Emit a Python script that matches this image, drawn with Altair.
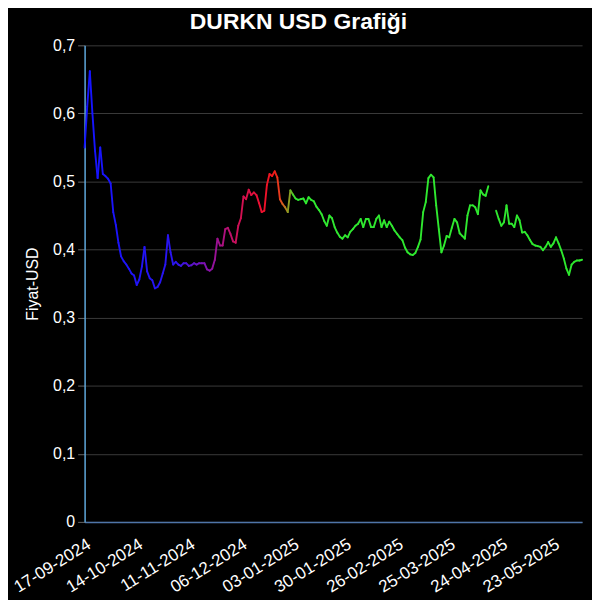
import altair as alt
import pandas as pd

# Daily closing prices (USD), trading-day index 0..191; None = missing day
prices = [
    0.550, 0.610, 0.662, 0.600, 0.545, 0.505, 0.550, 0.511, 0.508, 0.504,
    0.497, 0.455, 0.436, 0.410, 0.390, 0.383, 0.378, 0.372, 0.365, 0.362,
    0.348, 0.356, 0.375, 0.404, 0.368, 0.358, 0.355, 0.343, 0.345, 0.352,
    0.365, 0.378, 0.421, 0.396, 0.378, 0.382, 0.378, 0.376, 0.380, 0.380,
    0.376, 0.377, 0.380, 0.378, 0.380, 0.380, 0.380, 0.371, 0.369, 0.372,
    0.385, 0.416, 0.406, 0.406, 0.430, 0.432, 0.423, 0.412, 0.410, 0.435,
    0.446, 0.478, 0.474, 0.488, 0.480, 0.484, 0.480, 0.468, 0.455, 0.457,
    0.495, 0.511, 0.508, 0.515, 0.506, 0.474, 0.467, 0.462, 0.455, 0.487,
    0.481, 0.475, 0.473, 0.474, 0.475, 0.468, 0.477, 0.473, 0.471, 0.463,
    0.458, 0.452, 0.442, 0.435, 0.450, 0.446, 0.433, 0.425, 0.419, 0.416,
    0.421, 0.418, 0.426, 0.430, 0.435, 0.438, 0.445, 0.433, 0.445, 0.445,
    0.433, 0.433, 0.445, 0.450, 0.433, 0.443, 0.433, 0.441, 0.435, 0.428,
    0.423, 0.418, 0.414, 0.403, 0.396, 0.393, 0.392, 0.395, 0.404, 0.415,
    0.455, 0.470, 0.505, 0.510, 0.506, 0.465, 0.430, 0.396, 0.406, 0.420,
    0.418, 0.432, 0.445, 0.440, 0.424, 0.420, 0.416, 0.450, 0.465, 0.465,
    0.462, 0.452, 0.487, 0.481, 0.479, 0.493, None, None, 0.457, 0.445,
    0.435, 0.440, 0.465, 0.438, 0.438, 0.433, 0.450, 0.443, 0.425, 0.426,
    0.421, 0.414, 0.408, 0.406, 0.405, 0.404, 0.399, 0.404, 0.411, 0.404,
    0.409, 0.418, 0.409, 0.399, 0.387, 0.372, 0.363, 0.378, 0.382, 0.384,
    0.384, 0.385,
]

# x-axis tick labels (every 20th trading day)
tick_labels = [
    "17-09-2024", "14-10-2024", "11-11-2024", "06-12-2024", "03-01-2025",
    "30-01-2025", "26-02-2025", "25-03-2025", "24-04-2025", "23-05-2025",
]
tick_step = 20

# colour gradient stops along the series (index -> colour)
grad_idx = [0, 35, 48, 58, 68, 73, 76, 78, 81, 191]
grad_col = ["#1414ff", "#2a14f0", "#8a12a8", "#c8105c", "#ee1030",
            "#f01818", "#e05a20", "#a09020", "#30e830", "#2ee82e"]

rows = []
for i in range(len(prices) - 1):
    a, b = prices[i], prices[i + 1]
    if a is None or b is None:
        continue
    rows.append({"i": i, "i2": i + 1, "v": a, "v2": b, "c": i + 0.5})
df = pd.DataFrame(rows)

n = len(prices)
label_arr = "[" + ",".join("'" + s + "'" for s in tick_labels) + "]"

font = "Liberation Sans"

chart = alt.Chart(df).mark_rule(strokeWidth=1.9, strokeCap="round").encode(
    x=alt.X("i:Q",
            scale=alt.Scale(domain=[0, n - 1], nice=False, zero=False),
            axis=alt.Axis(values=[k * tick_step for k in range(len(tick_labels))],
                          labelExpr=label_arr + "[round(datum.value/%d)]" % tick_step,
                          labelAngle=-32, labelAlign="right", labelBaseline="top",
                          labelFontSize=17, labelColor="#ffffff", labelFont=font,
                          labelPadding=14, ticks=False, grid=False,
                          domainColor="#4f75a8", domainWidth=1.5,
                          title=None, labelOverlap=False)),
    x2="i2:Q",
    y=alt.Y("v:Q",
            scale=alt.Scale(domain=[0, 0.7], nice=False),
            axis=alt.Axis(values=[0, 0.1, 0.2, 0.3, 0.4, 0.5, 0.6, 0.7],
                          labelExpr="replace(format(datum.value, '.1~f'), '.', ',')",
                          labelFontSize=16, labelColor="#ffffff", labelFont=font,
                          tickColor="#666666", tickSize=7, labelPadding=3,
                          grid=True, gridColor="#3a3a3a",
                          domainColor="#5fa8dc", domainWidth=1.5,
                          title="Fiyat-USD", titleColor="#ffffff", titleFontSize=16,
                          titleFont=font, titleFontWeight="normal", titlePadding=12)),
    y2="v2:Q",
    color=alt.Color("c:Q", scale=alt.Scale(domain=grad_idx, range=grad_col,
                                            interpolate="rgb"), legend=None),
).properties(
    width=500,
    height=479,
    title=alt.TitleParams("DURKN USD Grafiği", color="#ffffff", fontSize=23,
                          font=font, fontWeight="bold", anchor="middle",
                          dx=-35, offset=3),
    autosize=alt.AutoSizeParams(type="none"),
    padding={"left": 77, "top": 36, "right": 10, "bottom": 80},
).configure(
    background="#000000",
).configure_view(
    stroke=None,
)

chart.save("out.html", embed_options={"renderer": "svg", "actions": False})
